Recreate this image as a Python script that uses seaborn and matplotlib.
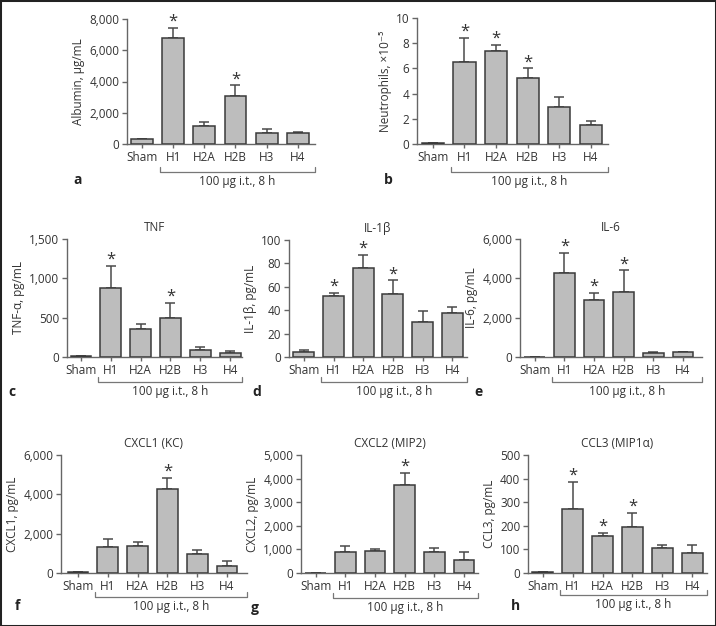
import matplotlib
matplotlib.use("Agg")
import matplotlib.pyplot as plt
import matplotlib.transforms as mtransforms
from matplotlib.patches import Rectangle
from matplotlib.ticker import FuncFormatter
import seaborn as sns

groups = ["Sham", "H1", "H2A", "H2B", "H3", "H4"]
treat_label = "100 µg i.t., 8 h"

albumin_mean = [300, 6800, 1150, 3050, 720, 700]
albumin_sem = [50, 650, 250, 700, 270, 100]
albumin_sig = [0, 1, 0, 1, 0, 0]

neutro_mean = [0.08, 6.5, 7.35, 5.2, 2.95, 1.5]
neutro_sem = [0.02, 1.9, 0.5, 0.8, 0.75, 0.35]
neutro_sig = [0, 1, 1, 1, 0, 0]

tnf_mean = [10, 880, 360, 495, 95, 50]
tnf_sem = [3, 280, 60, 195, 30, 25]
tnf_sig = [0, 1, 0, 1, 0, 0]

il1b_mean = [4.5, 52.5, 76, 53.5, 30, 38]
il1b_sem = [1.5, 2.5, 11.5, 12, 9, 4.5]
il1b_sig = [0, 1, 1, 1, 0, 0]

il6_mean = [10, 4280, 2920, 3280, 200, 230]
il6_sem = [5, 1020, 330, 1120, 30, 10]
il6_sig = [0, 1, 1, 1, 0, 0]

cxcl1_mean = [50, 1300, 1350, 4250, 950, 380]
cxcl1_sem = [20, 430, 250, 570, 220, 240]
cxcl1_sig = [0, 0, 0, 1, 0, 0]

cxcl2_mean = [10, 900, 920, 3720, 900, 570]
cxcl2_sem = [5, 230, 110, 530, 170, 300]
cxcl2_sig = [0, 0, 0, 1, 0, 0]

ccl3_mean = [4, 272, 155, 195, 105, 85]
ccl3_sem = [2, 115, 15, 60, 15, 35]
ccl3_sig = [0, 1, 1, 1, 0, 0]

W, H = 716, 626
BAR = "#bdbdbd"
EDGE = "#3a3a3a"
AXC = "#666666"
TXT = "#333333"
FS = 8.5

sns.set_style("ticks")
plt.rcParams["font.family"] = ["Open Sans", "DejaVu Sans"]
plt.rcParams["font.size"] = FS


def draw_panel(fig, box, means, sems, sig, yticks, ylabel, title, letter, letter_xy,
               bracket_off, xlim):
    left, right, top, bottom = box
    ax = fig.add_axes([left / W, 1 - bottom / H, (right - left) / W, (bottom - top) / H])
    sns.barplot(x=groups, y=means, ax=ax, color=BAR, edgecolor=EDGE, linewidth=1.1,
                width=0.7, saturation=1, errorbar=None, zorder=3)
    xs = list(range(len(groups)))
    ax.errorbar(xs, means, yerr=[[0] * len(sems), sems], fmt="none", ecolor="#4a4a4a",
                elinewidth=1.1, capsize=3.5, capthick=1.1, zorder=2)
    for i, s in enumerate(sig):
        if s:
            ax.annotate("*", xy=(i, means[i] + sems[i]), xytext=(0, 1.5),
                        textcoords="offset points", ha="center", va="baseline",
                        fontsize=12, color=TXT)
    ax.set_xlim(*xlim)
    ax.set_ylim(0, yticks[-1])
    ax.set_yticks(yticks)
    ax.yaxis.set_major_formatter(FuncFormatter(lambda v, p: f"{v:,.0f}"))
    ax.set_ylabel(ylabel, color=TXT, fontsize=FS, labelpad=3)
    ax.set_xlabel("")
    if title:
        ax.set_title(title, color=TXT, fontsize=FS, pad=6)
    sns.despine(ax=ax)
    for sp in ["left", "bottom"]:
        ax.spines[sp].set_color(AXC)
        ax.spines[sp].set_linewidth(1.0)
    ax.tick_params(axis="y", length=3.5, width=1, color=AXC, labelcolor=TXT,
                   labelsize=FS, pad=2)
    ax.tick_params(axis="x", length=3, width=1, color=AXC, labelcolor=TXT,
                   labelsize=FS, pad=2)

    # bracket under treated groups
    base = mtransforms.blended_transform_factory(ax.transData, ax.transAxes)
    x0, x1 = 1 - 0.42, xlim[1]
    ax.plot([x0, x0, x1, x1], [0.04, 0, 0, 0.04], transform=mtransforms.offset_copy(
        base, fig=fig, y=-bracket_off, units="dots"), color="#777777", lw=0.9,
        clip_on=False)
    trt = mtransforms.offset_copy(base, fig=fig, y=-bracket_off - 3, units="dots")
    ax.text((x0 + x1) / 2, 0, treat_label, transform=trt, ha="center", va="top",
            color=TXT, fontsize=FS)
    fig.text(letter_xy[0] / W, 1 - letter_xy[1] / H, letter, ha="center", va="center",
             fontsize=10, fontweight="bold", color="#222222")
    return ax


fig = plt.figure(figsize=(W / 100, H / 100), dpi=100)

draw_panel(fig, (127, 315, 19, 144), albumin_mean, albumin_sem, albumin_sig,
           [0, 2000, 4000, 6000, 8000], "Albumin, µg/mL", None, "a", (78, 180), 28,
           (-0.48, 5.55))
draw_panel(fig, (417, 608, 18, 144), neutro_mean, neutro_sem, neutro_sig,
           [0, 2, 4, 6, 8, 10], "Neutrophils, ×10⁻⁵", None, "b", (388, 180), 28,
           (-0.5, 5.54))
draw_panel(fig, (67, 242, 239, 357), tnf_mean, tnf_sem, tnf_sig,
           [0, 500, 1000, 1500], "TNF-α, pg/mL", "TNF", "c", (12, 392), 25,
           (-0.47, 5.4))
draw_panel(fig, (289, 467, 240, 357), il1b_mean, il1b_sem, il1b_sig,
           [0, 20, 40, 60, 80, 100], "IL-1β, pg/mL", "IL-1β", "d", (257, 392), 25,
           (-0.5, 5.5))
draw_panel(fig, (520, 702, 239, 357), il6_mean, il6_sem, il6_sig,
           [0, 2000, 4000, 6000], "IL-6, pg/mL", "IL-6", "e", (478, 392), 25,
           (-0.5, 5.64))
draw_panel(fig, (61, 247, 455, 573), cxcl1_mean, cxcl1_sem, cxcl1_sig,
           [0, 2000, 4000, 6000], "CXCL1, pg/mL", "CXCL1 (KC)", "f", (17, 606), 24,
           (-0.57, 5.67))
draw_panel(fig, (301, 478, 455, 573), cxcl2_mean, cxcl2_sem, cxcl2_sig,
           [0, 1000, 2000, 3000, 4000, 5000], "CXCL2, pg/mL", "CXCL2 (MIP2)", "g",
           (255, 608), 25, (-0.5, 5.47))
draw_panel(fig, (528, 707, 455, 573), ccl3_mean, ccl3_sem, ccl3_sig,
           [0, 100, 200, 300, 400, 500], "CCL3, pg/mL", "CCL3 (MIP1α)", "h",
           (515, 606), 22, (-0.5, 5.5))

fig.patches.append(Rectangle((0, 0), 1, 1, transform=fig.transFigure, fill=False,
                             edgecolor="#222222", linewidth=2.2))

fig.savefig("out.png", dpi=100)
